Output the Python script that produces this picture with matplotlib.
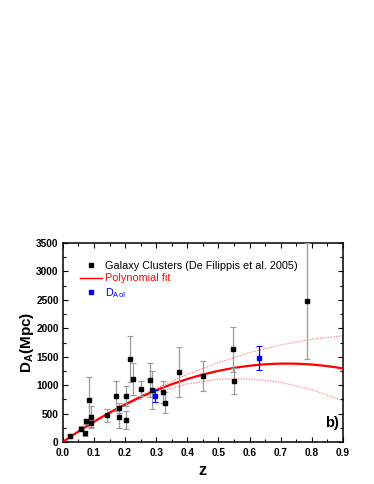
import matplotlib
matplotlib.use("Agg")
import matplotlib.pyplot as plt
import numpy as np
from matplotlib.lines import Line2D
from matplotlib.ticker import MultipleLocator

plt.rcParams['font.family'] = ['Liberation Sans', 'DejaVu Sans']
plt.rcParams['mathtext.fontset'] = 'custom'
plt.rcParams['mathtext.rm'] = 'Liberation Sans'
plt.rcParams['mathtext.it'] = 'Liberation Sans:italic'
plt.rcParams['mathtext.bf'] = 'Liberation Sans:bold'

# Galaxy clusters (De Filippis et al. 2005)
gc_z = [0.0225, 0.058, 0.072, 0.074, 0.085, 0.089, 0.091, 0.141, 0.170, 0.182,
        0.181, 0.2025, 0.2025, 0.215, 0.224, 0.251, 0.281, 0.287, 0.3225, 0.328,
        0.373, 0.450, 0.5455, 0.549, 0.783]
gc_d = [100, 232, 155, 366, 740, 437, 330, 472, 805, 602,
        445, 805, 385, 1462, 1110, 940, 1092, 922, 882, 694,
        1228, 1162, 1632, 1066, 2480]
gc_err = [30, 45, 45, 45, 400, 190, 60, 115, 260, 90,
          195, 175, 155, 405, 275, 130, 300, 335, 190, 190,
          440, 265, 395, 230, 1020]

# D_AoI
aoi_z = [0.296, 0.630]
aoi_d = [810, 1485]
aoi_err = [105, 210]

# Polynomial fit coefficients (highest power first)
fit_coef = [-2662.0, 3833.0, 0.0]

# Confidence band read at sample redshifts
band_z = [0.0, 0.1, 0.2, 0.3, 0.4, 0.5, 0.6, 0.7, 0.8, 0.9]
band_up = [0, 372, 675, 945, 1192, 1396, 1572, 1709, 1808, 1870]
band_lo = [0, 342, 645, 875, 1022, 1106, 1112, 1049, 918, 727]

fig = plt.figure(figsize=(3.74, 4.84), dpi=100)
ax = fig.add_axes([0.168, 0.0868, 0.749, 0.411])

zz = np.linspace(0, 0.9, 300)
ax.plot(zz, np.polyval(fit_coef, zz), color='#ff0000', lw=1.6, zorder=3)
ax.plot(band_z, band_up, color='#ff8080', lw=0.8, ls=(0, (1.2, 1.2)), zorder=2)
ax.plot(band_z, band_lo, color='#ff8080', lw=0.8, ls=(0, (1.2, 1.2)), zorder=2)

ax.errorbar(gc_z, gc_d, yerr=gc_err, fmt='s', color='black', ms=3.3,
            ecolor='#9a9a9a', elinewidth=0.9, capsize=2.2, capthick=0.8, zorder=4)
ax.errorbar(aoi_z, aoi_d, yerr=aoi_err, fmt='s', color='#0000ff', ms=3.3,
            ecolor='#0000ff', elinewidth=0.9, capsize=2.2, capthick=0.8, zorder=5)

ax.set_xlim(0, 0.9)
ax.set_ylim(0, 3500)
ax.xaxis.set_major_locator(MultipleLocator(0.1))
ax.xaxis.set_minor_locator(MultipleLocator(0.05))
ax.yaxis.set_major_locator(MultipleLocator(500))
ax.yaxis.set_minor_locator(MultipleLocator(250))
ax.tick_params(which='both', direction='in', top=True, right=True, width=0.8)
ax.tick_params(which='major', length=3.5, labelsize=7.3)
ax.tick_params(axis='x', which='major', pad=4)
ax.tick_params(axis='y', which='major', pad=3)
ax.tick_params(which='minor', length=2)
for lab in ax.get_xticklabels() + ax.get_yticklabels():
    lab.set_fontweight('bold')
for s in ax.spines.values():
    s.set_linewidth(1.1)

ax.set_xlabel('z', fontsize=12, fontweight='bold', labelpad=4)
ax.set_ylabel(r'D$_{\mathbf{A}}$(Mpc)', fontsize=11, fontweight='bold', labelpad=0)

ax.text(0.842, 330, 'b)', fontsize=10.5, fontweight='bold', ha='left', va='center')

handles = [
    Line2D([], [], ls='none', marker='s', color='black', ms=3),
    Line2D([], [], color='#ff0000', lw=1.0),
    Line2D([], [], ls='none', marker='s', color='#0000ff', ms=3),
]
labels = ['Galaxy Clusters (De Filippis et al. 2005)', 'Polynomial fit', r'D$_{\mathrm{AoI}}$']
leg = ax.legend(handles, labels, loc='upper left', frameon=False, fontsize=7.8,
                handlelength=2.0, handletextpad=0.3, labelspacing=0.25,
                bbox_to_anchor=(0.035, 0.95), borderaxespad=0.3)
for t, c in zip(leg.get_texts(), ['black', '#ff0000', '#0000ff']):
    t.set_color(c)

fig.savefig('out.png', dpi=100)
